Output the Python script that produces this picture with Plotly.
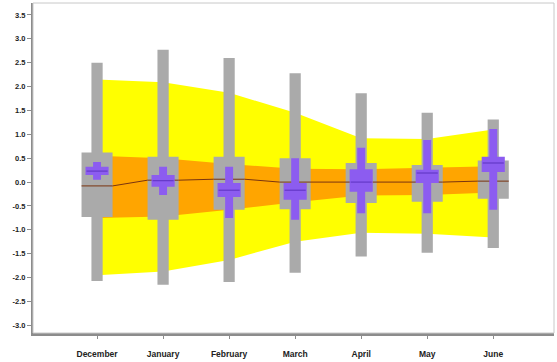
import plotly.graph_objects as go

categories = ["December", "January", "February", "March", "April", "May", "June"]

# range (whiskers)
whisker_lo = [-2.07, -2.15, -2.09, -1.90, -1.56, -1.48, -1.38]
whisker_hi = [2.50, 2.77, 2.60, 2.28, 1.86, 1.45, 1.31]
# inter-quartile boxes
box_lo = [-0.73, -0.79, -0.58, -0.57, -0.44, -0.41, -0.35]
box_hi = [0.62, 0.53, 0.53, 0.50, 0.40, 0.36, 0.45]
median = [-0.08, 0.04, 0.06, 0.00, 0.00, 0.00, 0.02]
# purple interval / box / mean
pv_lo = [0.05, -0.27, -0.75, -0.79, -0.65, -0.65, -0.58]
pv_hi = [0.42, 0.32, 0.32, 0.50, 0.72, 0.88, 1.11]
pb_lo = [0.15, -0.10, -0.31, -0.37, -0.20, -0.02, 0.21]
pb_hi = [0.32, 0.15, -0.02, -0.02, 0.27, 0.26, 0.53]
mean = [0.23, 0.03, -0.17, -0.17, 0.00, 0.19, 0.40]
# fan bands
outer_hi = [2.15, 2.09, 1.87, 1.45, 0.92, 0.90, 1.10]
outer_lo = [-1.95, -1.87, -1.63, -1.25, -1.06, -1.08, -1.16]
inner_hi = [0.55, 0.50, 0.38, 0.28, 0.27, 0.30, 0.33]
inner_lo = [-0.75, -0.72, -0.58, -0.42, -0.28, -0.27, -0.22]

y_ticks = [3.5, 3.0, 2.5, 2.0, 1.5, 1.0, 0.5, 0.0, -0.5, -1.0, -1.5, -2.0, -2.5, -3.0]

xs = list(range(len(categories)))


def rects(lo, hi, half):
    X, Y = [], []
    for i, (a, b) in enumerate(zip(lo, hi)):
        X += [i - half, i + half, i + half, i - half, i - half, None]
        Y += [a, a, b, b, a, None]
    return X, Y


def band(lo, hi):
    return xs + xs[::-1] + [xs[0]], hi + lo[::-1] + [hi[0]]


fig = go.Figure()

bx, by = band(outer_lo, outer_hi)
fig.add_trace(go.Scatter(x=bx, y=by, fill="toself", fillcolor="#ffff00",
                         line=dict(width=0), mode="lines", hoverinfo="skip"))
bx, by = band(inner_lo, inner_hi)
fig.add_trace(go.Scatter(x=bx, y=by, fill="toself", fillcolor="#ffa500",
                         line=dict(width=0), mode="lines", hoverinfo="skip"))

X, Y = rects(whisker_lo, whisker_hi, 0.085)
fig.add_trace(go.Scatter(x=X, y=Y, fill="toself", fillcolor="#aaaaaa",
                         line=dict(width=0), mode="lines", hoverinfo="skip"))
X, Y = rects(box_lo, box_hi, 0.235)
fig.add_trace(go.Scatter(x=X, y=Y, fill="toself", fillcolor="#aaaaaa",
                         line=dict(width=0), mode="lines", hoverinfo="skip"))

# median line
mx, my = [], []
for i, m in enumerate(median):
    mx += [i - 0.235, i + 0.235]
    my += [m, m]
fig.add_trace(go.Scatter(x=mx, y=my, mode="lines",
                         line=dict(color="#7a3410", width=1), hoverinfo="skip"))

X, Y = rects(pv_lo, pv_hi, 0.06)
fig.add_trace(go.Scatter(x=X, y=Y, fill="toself", fillcolor="#8c5cf0",
                         line=dict(width=0), mode="lines", hoverinfo="skip"))
X, Y = rects(pb_lo, pb_hi, 0.175)
fig.add_trace(go.Scatter(x=X, y=Y, fill="toself", fillcolor="#8c5cf0",
                         line=dict(width=0), mode="lines", hoverinfo="skip"))
# mean marks
ex, ey = [], []
for i, m in enumerate(mean):
    ex += [i - 0.16, i + 0.16, None]
    ey += [m, m, None]
fig.add_trace(go.Scatter(x=ex, y=ey, mode="lines",
                         line=dict(color="#6438c8", width=1.2), hoverinfo="skip"))

fig.update_layout(
    width=557, height=362,
    margin=dict(l=33, r=3, t=3, b=29),
    paper_bgcolor="white", plot_bgcolor="white",
    showlegend=False,
    font=dict(family="Liberation Sans, Arial, sans-serif", color="#222222"),
    shapes=[dict(type="rect", xref="paper", yref="paper", x0=0, x1=1, y0=0, y1=1,
                 line=dict(color="#c8c8c8", width=1), layer="above")],
)
fig.update_xaxes(
    range=[-0.97, 6.92], tickvals=xs,
    ticktext=["<b>%s</b>" % c for c in categories],
    tickfont=dict(size=8.5), showgrid=False, zeroline=False,
    showline=True, linecolor="#8c8c8c", linewidth=3,
    ticks="outside", ticklen=3, tickcolor="#8c8c8c", ticklabelstandoff=8,
)
fig.update_yaxes(
    range=[-3.16, 3.75], tickvals=y_ticks,
    ticktext=["<b>%.1f</b>" % v for v in y_ticks],
    tickfont=dict(size=7.5), showgrid=False, zeroline=False,
    showline=True, linecolor="#8c8c8c", linewidth=2,
    ticks="outside", ticklen=4, tickcolor="#8c8c8c",
)

fig.write_html("out.html", config={"displayModeBar": False},
               post_script="document.body.style.margin='0';document.body.style.overflow='hidden';")
